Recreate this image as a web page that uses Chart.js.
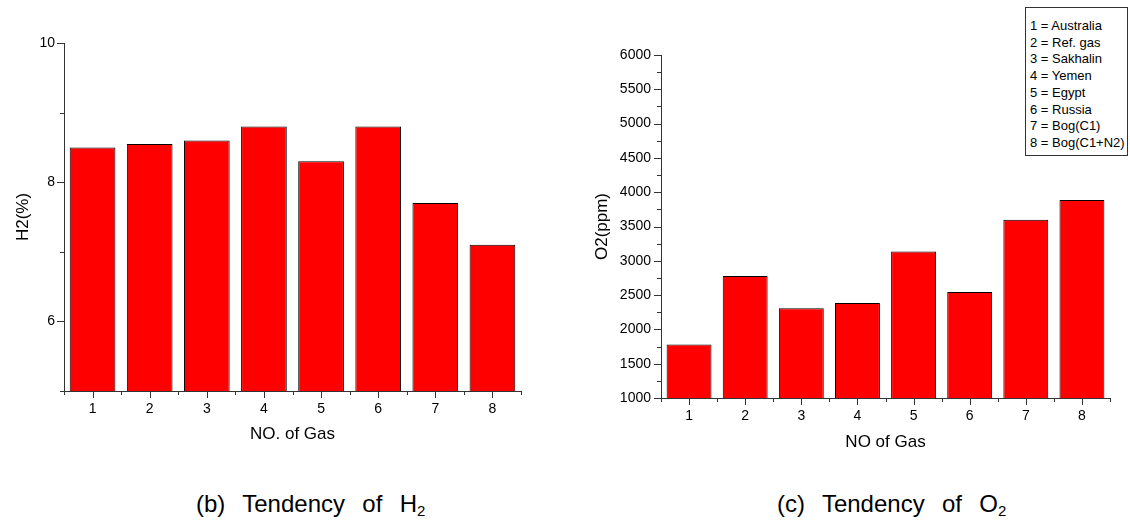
<!DOCTYPE html>
<html lang="en">
<head>
<meta charset="UTF-8">
<title>Tendency of H2 and O2</title>
<script src="https://cdn.jsdelivr.net/npm/chart.js@4.4.0/dist/chart.umd.min.js"></script>
<style>
  body { margin: 0; background: #fff; width: 1130px; height: 522px; position: relative; overflow: hidden; font-family: "Liberation Sans", Arial, sans-serif; }
  #wrapH2 { position: absolute; left: 0; top: 0; width: 560px; height: 460px; }
  #wrapO2 { position: absolute; left: 560px; top: 0; width: 570px; height: 470px; }
  #legendBox { position: absolute; left: 1025px; top: 7px; width: 103px; border: 1px solid #333; background: #fff;
               font-size: 13px; line-height: 16.7px; padding: 10px 0 3px 4px; box-sizing: border-box; color: #000; }
  .caption { position: absolute; top: 490px; font-size: 24px; line-height: 28px; white-space: pre; word-spacing: 2px; color: #000; }
  .caption sub { font-size: 15px; vertical-align: -4px; line-height: 0; }
</style>
</head>
<body>
<div id="wrapH2"><canvas id="chartH2"></canvas></div>
<div id="wrapO2"><canvas id="chartO2"></canvas></div>
<div id="legendBox"></div>
<div class="caption" style="left:196px">(b)  Tendency  of  H<sub>2</sub></div>
<div class="caption" style="left:777px">(c)  Tendency  of  O<sub>2</sub></div>
<script>
const gasNo = ['1', '2', '3', '4', '5', '6', '7', '8'];
const gasNames = ['Australia', 'Ref. gas', 'Sakhalin', 'Yemen', 'Egypt', 'Russia', 'Bog(C1)', 'Bog(C1+N2)'];
const h2Values = [8.5, 8.55, 8.6, 8.8, 8.3, 8.8, 7.7, 7.1];
const o2Values = [1780, 2780, 2310, 2385, 3135, 2545, 3600, 3885];
const h2Ticks = [6, 8, 10];
const o2Ticks = [1000, 1500, 2000, 2500, 3000, 3500, 4000, 4500, 5000, 5500, 6000];

const FONT = '"Liberation Sans", Arial, sans-serif';
const AXIS = '#333';

document.getElementById('legendBox').innerHTML =
  gasNo.map((n, i) => '<div>' + n + ' = ' + gasNames[i] + '</div>').join('');

// origin-style tick marks: major at labels, minor in between, pointing outward
const axisTicks = {
  id: 'axisTicks',
  afterDraw(chart, args, opts) {
    const ctx = chart.ctx;
    const x = chart.scales.x, y = chart.scales.y;
    ctx.save();
    ctx.strokeStyle = AXIS;
    ctx.lineWidth = 1;
    ctx.beginPath();
    const n = chart.data.labels.length;
    const step = x.width / n;
    for (let i = 0; i < n; i++) {
      const px = Math.round(x.getPixelForValue(i)) + 0.5;
      ctx.moveTo(px, x.top); ctx.lineTo(px, x.top + 7);
    }
    for (let i = 0; i <= n; i++) {
      const px = Math.round(x.left + i * step) + 0.5;
      ctx.moveTo(px, x.top); ctx.lineTo(px, x.top + 4);
    }
    for (let v = y.min; v <= y.max + 1e-9; v += opts.minor) {
      const py = Math.round(y.getPixelForValue(v)) + 0.5;
      const len = opts.major.includes(v) ? 7 : 4;
      ctx.moveTo(y.right, py); ctx.lineTo(y.right - len, py);
    }
    ctx.stroke();
    ctx.restore();
  }
};

function makeChart(id, values, ticks, yMin, yMax, minor, yTitle, xTitle, lay) {
  return new Chart(document.getElementById(id), {
    type: 'bar',
    data: {
      labels: gasNo,
      datasets: [{
        data: values,
        backgroundColor: '#ff0000',
        borderColor: '#000',
        borderWidth: 1,
        barPercentage: 0.8,
        categoryPercentage: 1.0
      }]
    },
    options: {
      responsive: true,
      maintainAspectRatio: false,
      animation: false,
      layout: { padding: { left: 0, top: lay.top, right: lay.right, bottom: 0 } },
      plugins: {
        legend: { display: false },
        tooltip: { enabled: false },
        axisTicks: { minor: minor, major: ticks }
      },
      scales: {
        x: {
          grid: { display: false, drawTicks: false },
          border: { display: true, color: AXIS, width: 1 },
          ticks: { color: '#000', font: { family: FONT, size: 14 }, padding: lay.xTickPad },
          title: { display: true, text: xTitle, color: '#000', font: { family: FONT, size: 17 }, padding: { top: 0, bottom: lay.xTitlePad } },
          afterFit: s => { s.height = lay.xHeight; }
        },
        y: {
          min: yMin,
          max: yMax,
          grid: { display: false, drawTicks: false },
          border: { display: true, color: AXIS, width: 1 },
          afterBuildTicks: s => { s.ticks = ticks.map(v => ({ value: v })); },
          ticks: { color: '#000', font: { family: FONT, size: 14 }, padding: lay.yTickPad, callback: v => String(v) },
          title: { display: true, text: yTitle, color: '#000', font: { family: FONT, size: 17 }, padding: { top: lay.yTitlePad, bottom: 0 } },
          afterFit: s => { s.width = lay.yWidth; }
        }
      }
    },
    plugins: [axisTicks]
  });
}

makeChart('chartH2', h2Values, h2Ticks, 5, 10, 1, 'H2(%)', 'NO. of Gas',
  { top: 43, right: 39, xHeight: 69, yWidth: 64, xTickPad: 10, xTitlePad: 15, yTickPad: 9, yTitlePad: 13 });
makeChart('chartO2', o2Values, o2Ticks, 1000, 6000, 250, 'O2(ppm)', 'NO of Gas',
  { top: 55, right: 20, xHeight: 72, yWidth: 101, xTickPad: 10, xTitlePad: 17, yTickPad: 10, yTitlePad: 32 });
</script>
</body>
</html>
